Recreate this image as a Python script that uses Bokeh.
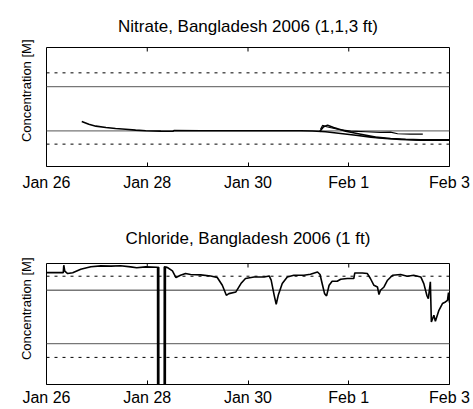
import math
from bokeh.plotting import figure
from bokeh.layouts import column
from bokeh.models import Range1d, FixedTicker, Span, Title
from bokeh.embed import file_html
from bokeh.resources import INLINE

FONT = "Liberation Sans"

# x axis: days since Jan 26
x_start, x_end = 0, 8
y_start, y_end = 0, 1
tick_days = [0, 2, 4, 6, 8]
tick_labels = ["Jan 26", "Jan 28", "Jan 30", "Feb 1", "Feb 3"]

# Nitrate (relative concentration, three sensors 1,1,3 ft)
nitrate_a_day = [0.70, 0.84, 0.98, 1.18, 1.37, 1.57, 1.77, 1.97, 2.27, 2.51, 2.53, 3.06,
                 4.05, 5.05, 5.28, 5.54, 5.84, 6.14, 6.44, 6.73, 7.03, 7.43, 8.0]
nitrate_a_val = [0.378, 0.355, 0.339, 0.328, 0.319, 0.313, 0.306, 0.300, 0.297, 0.296, 0.302, 0.301,
                 0.300, 0.300, 0.298, 0.292, 0.277, 0.262, 0.247, 0.235, 0.227, 0.222, 0.222]
nitrate_b_day = [5.44, 5.48, 5.56, 5.78, 6.04, 6.34, 6.63, 6.83, 6.97, 7.23, 7.47]
nitrate_b_val = [0.312, 0.345, 0.334, 0.313, 0.297, 0.292, 0.287, 0.289, 0.275, 0.272, 0.272]
nitrate_c_day = [5.42, 5.50, 5.58, 5.70, 5.94, 6.24, 6.53, 6.83, 7.13, 7.43, 8.0]
nitrate_c_val = [0.292, 0.334, 0.346, 0.328, 0.296, 0.271, 0.247, 0.235, 0.229, 0.224, 0.224]
nitrate_solid = [0.672, 0.300]
nitrate_dashed = [0.787, 0.188]

# Chloride (1 ft)
chloride_day = [0, 0.333, 0.343, 0.363, 0.42, 0.52, 0.68, 0.88, 1.08, 1.28, 1.47, 1.67, 1.79, 1.97,
                2.19, 2.205, 2.207, 2.222, 2.224, 2.228, 2.230, 2.336, 2.338, 2.346, 2.348, 2.358, 2.360,
                2.40, 2.50, 2.57, 2.66, 2.76, 2.86, 3.06, 3.26, 3.39, 3.49, 3.57, 3.62, 3.76, 3.86, 3.95,
                4.12, 4.32, 4.42, 4.46, 4.52, 4.56, 4.60, 4.68, 4.78, 4.91, 5.11, 5.24, 5.38, 5.43, 5.48,
                5.52, 5.56, 5.61, 5.67, 5.77, 5.84, 5.97, 6.10, 6.12, 6.27, 6.37, 6.43, 6.50, 6.57, 6.60,
                6.63, 6.70, 6.77, 6.87, 7.03, 7.16, 7.29, 7.43, 7.49, 7.55, 7.58, 7.62, 7.64, 7.69, 7.72,
                7.79, 7.86, 7.92, 7.96, 7.98, 8.0]
chloride_val = [0.925, 0.925, 0.986, 0.936, 0.917, 0.924, 0.953, 0.973, 0.980, 0.978, 0.982, 0.972, 0.965, 0.972,
                0.969, 0.969, -0.5, -0.5, 0.969, 0.969, -0.5, -0.5, 0.972, 0.972, -0.5, -0.5, 0.972,
                0.967, 0.939, 0.884, 0.903, 0.917, 0.909, 0.906, 0.897, 0.884, 0.820, 0.737, 0.751, 0.765, 0.834, 0.876,
                0.889, 0.889, 0.897, 0.862, 0.737, 0.663, 0.737, 0.834, 0.889, 0.903, 0.903, 0.911, 0.930, 0.909, 0.820,
                0.751, 0.732, 0.820, 0.853, 0.853, 0.870, 0.876, 0.876, 0.922, 0.922, 0.917, 0.876, 0.820, 0.806, 0.743,
                0.779, 0.806, 0.862, 0.903, 0.909, 0.895, 0.903, 0.889, 0.834, 0.737, 0.710, 0.848, 0.516, 0.572, 0.522,
                0.613, 0.669, 0.682, 0.696, 0.760, 0.677]
chloride_solid = [0.779, 0.337]
chloride_dashed = [0.895, 0.224]


def make_fig(title, height, top, bottom, title_standoff, label_standoff, ylabel_offset, solid, dashed):
    p = figure(width=473, height=height, x_range=Range1d(x_start, x_end), y_range=Range1d(y_start, y_end),
               output_backend="svg", toolbar_location=None,
               min_border_left=46, min_border_right=24, min_border_top=top, min_border_bottom=bottom)
    p.title.text = title
    p.title.align = "center"
    p.title.text_font = FONT
    p.title.text_font_size = "17px"
    p.title.text_font_style = "normal"
    p.title.text_color = "black"
    p.title.standoff = title_standoff
    p.grid.visible = False
    p.outline_line_color = "black"
    p.outline_line_width = 1
    p.outline_line_alpha = 1
    p.background_fill_color = "white"
    p.border_fill_color = "white"

    xa = p.xaxis[0]
    xa.ticker = FixedTicker(ticks=tick_days)
    xa.major_label_overrides = {d: l for d, l in zip(tick_days, tick_labels)}
    xa.axis_line_color = None
    xa.major_tick_in = 4
    xa.major_tick_out = 0
    xa.major_tick_line_color = "black"
    xa.minor_tick_line_color = None
    xa.major_label_text_font = FONT
    xa.major_label_text_font_size = "16px"
    xa.major_label_text_color = "black"
    xa.major_label_standoff = label_standoff

    # empty left axis: only reserves a strip between frame and the vertical label
    ya = p.yaxis[0]
    ya.ticker = FixedTicker(ticks=[])
    ya.axis_line_color = None
    ya.major_tick_line_color = None
    ya.minor_tick_line_color = None
    ya.major_tick_in = 0
    ya.major_tick_out = 7
    ya.minor_tick_out = 0
    ya.major_label_standoff = 0

    p.add_layout(Title(text="Concentration [M]", align="right", vertical_align="top",
                       offset=ylabel_offset, standoff=21,
                       text_font=FONT, text_font_size="13px", text_font_style="normal",
                       text_color="black"), "left")

    # inward ticks on the top edge of the frame
    p.ray(x=tick_days, y=[y_end] * len(tick_days), length=4, length_units="screen",
          angle=-math.pi / 2, line_color="black", line_width=1)

    for v in solid:
        p.add_layout(Span(location=v, dimension="width", line_color="#777777", line_width=1.3, level="underlay"))
    for v in dashed:
        p.add_layout(Span(location=v, dimension="width", line_color="black", line_width=1,
                          line_dash="3 5", level="underlay"))
    return p


p1 = make_fig("Nitrate, Bangladesh 2006 (1,1,3 ft)", 210, 47, 44, 23, 7, -8, nitrate_solid, nitrate_dashed)
p1.line(nitrate_a_day, nitrate_a_val, line_color="black", line_width=1.6)
p1.line(nitrate_b_day, nitrate_b_val, line_color="black", line_width=1.2)
p1.line(nitrate_c_day, nitrate_c_val, line_color="black", line_width=1.6)

p2 = make_fig("Chloride, Bangladesh 2006 (1 ft)", 199, 53, 25, 31, 4, -6, chloride_solid, chloride_dashed)
p2.line(chloride_day, chloride_val, line_color="black", line_width=1.6)

layout = column(p1, p2)
open("out.html", "w").write(file_html(layout, INLINE))
